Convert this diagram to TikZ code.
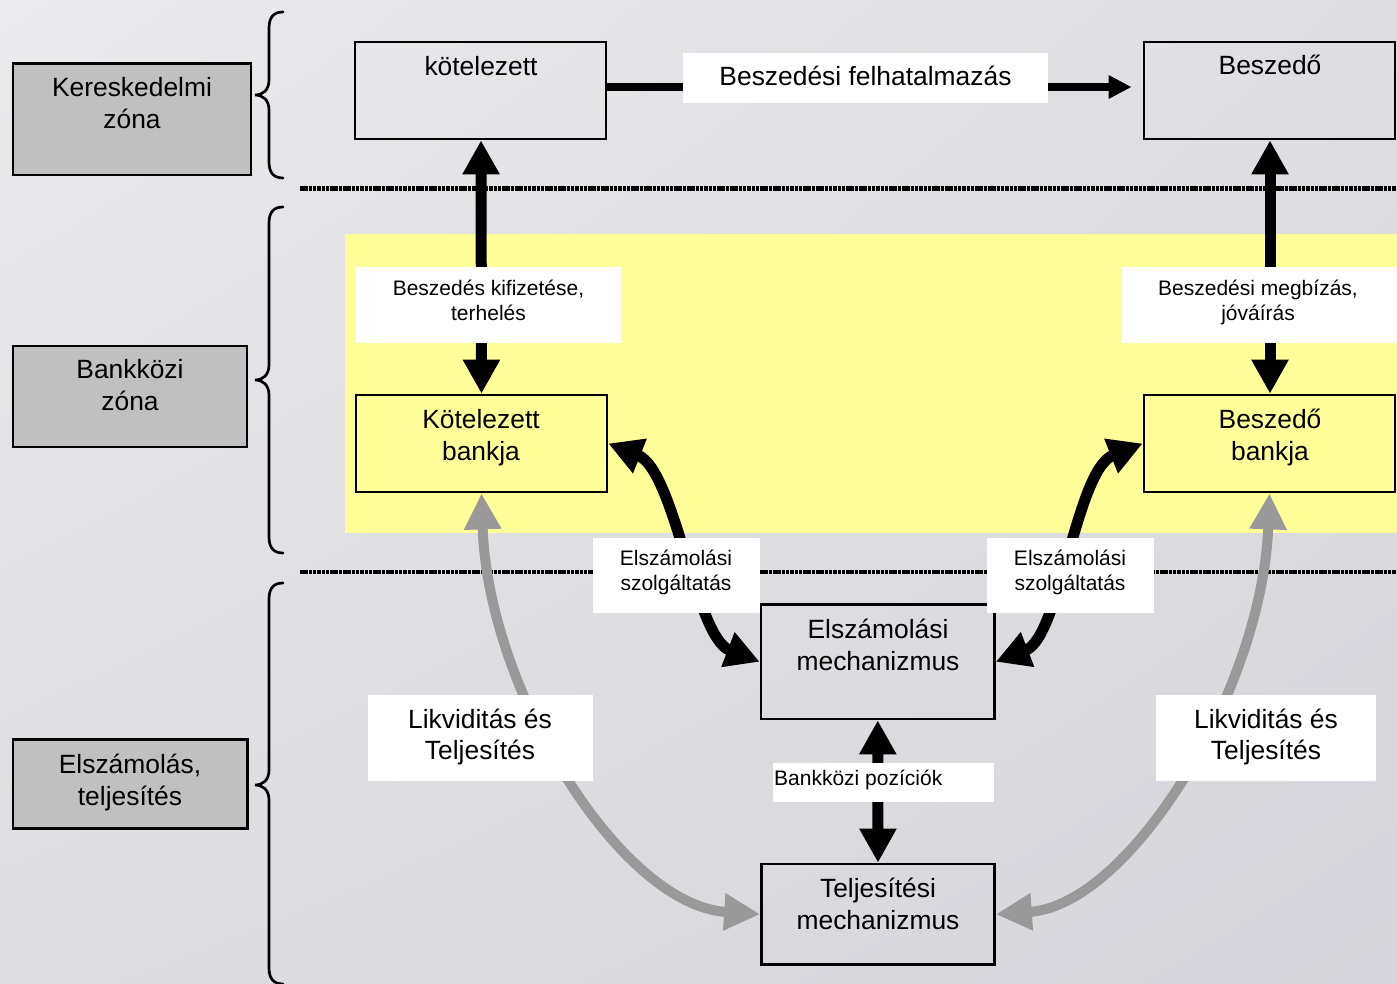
\documentclass[tikz,border=0pt]{standalone}
\usepackage{fontspec}
\setmainfont{Liberation Sans}
\usetikzlibrary{arrows.meta,shadings}
\definecolor{bgUL}{RGB}{234,234,237}
\definecolor{bgUR}{RGB}{222,222,226}
\definecolor{bgLL}{RGB}{221,221,225}
\definecolor{bgLR}{RGB}{214,213,219}
\definecolor{zonegray}{RGB}{192,192,192}
\definecolor{yel}{RGB}{255,255,153}
\definecolor{arrgray}{RGB}{153,153,153}
\newcommand\zonebrace[3]{%
  \draw[brc] (283,#1) .. controls (274,#1) and (269,{#1+5}) .. (269,{#1+16})
    -- (269,{#2-15}) .. controls (269,{#2-5}) and (263,#2) .. (255,#2)
    .. controls (263,#2) and (269,{#2+5}) .. (269,{#2+15})
    -- (269,{#3-16}) .. controls (269,{#3-5}) and (274,#3) .. (283,#3);}
\begin{document}
\begin{tikzpicture}[x=1pt,y=-1pt,
  box/.style={draw=black, line width=2.7pt, inner sep=0pt},
  zone/.style={box, fill=zonegray},
  big/.style={font=\fontsize{26.4}{32}\selectfont, align=center, anchor=base, inner sep=0pt},
  small/.style={font=\fontsize{21}{25}\selectfont, align=center, anchor=base, inner sep=0pt},
  lab/.style={fill=white, inner sep=0pt},
  brc/.style={line width=2.7pt, line cap=round},
  sep/.style={line width=4.5pt, dash pattern=on 3.5pt off 0.8pt},
  blk/.style={line width=11pt, {Triangle[length=34pt,width=35pt]}-{Triangle[length=34pt,width=35pt]}},
  gry/.style={draw=arrgray, line width=10pt, arrgray, {Triangle[length=36pt,width=35pt]}-{Triangle[length=36pt,width=35pt]}},
  harr/.style={line width=8pt, -{Triangle[length=23pt,width=22pt]}}
]
\useasboundingbox (0,0) rectangle (1397,984);
\shade[upper left=bgUL, upper right=bgUR, lower left=bgLL, lower right=bgLR] (0,0) rectangle (1397,984);
\fill[yel] (345,234) rectangle (1397,533);
\draw[sep] (300,188.5) -- (1397,188.5);
\draw[sep] (300,572) -- (1397,572);
\zonebrace{12}{95}{178}
\zonebrace{207}{380}{553}
\zonebrace{583}{785}{984}

% zone boxes
\node[zone, minimum width=238pt, minimum height=111.5pt] (zk) at (132,119.25) {};
\node[zone, minimum width=234pt, minimum height=101pt] (zb) at (130,396.5) {};
\node[zone, minimum width=234.5pt, minimum height=89pt] (ze) at (130.25,784) {};

% main boxes
\node[box, minimum width=251pt, minimum height=97pt] (kot) at (480.5,90.5) {};
\node[box, minimum width=251pt, minimum height=97pt] (besz) at (1269.5,90.5) {};
\node[box, fill=yel, minimum width=251pt, minimum height=97pt] (kb) at (481.5,443.5) {};
\node[box, fill=yel, minimum width=251pt, minimum height=97pt] (bb) at (1269.5,443.5) {};
\node[box, minimum width=233.5pt, minimum height=114.5pt] (em) at (877.75,661.75) {};
\node[box, minimum width=233pt, minimum height=100.5pt] (tm) at (878,914.25) {};

% connectors
\draw[harr] ([yshift=3.5pt]kot.east) -- ([yshift=3.5pt,xshift=-11pt]besz.west);
\draw[blk] ([xshift=0.5pt]kot.south) -- (kb.north);
\draw[blk] ([xshift=0.5pt]besz.south) -- ([xshift=0.5pt]bb.north);
\draw[blk] (em.south) -- (tm.north);
\draw[blk] (kb.east) .. controls (675,470) and (695,637) .. (em.west);
\draw[blk] (bb.west) .. controls (1076,470) and (1060,637) .. (em.east);
\draw[gry] (kb.south) .. controls (488,690) and (620,905) .. (tm.west);
\draw[gry] (bb.south) .. controls (1262,690) and (1130,905) .. (tm.east);

% white label boxes
\node[lab, minimum width=365pt, minimum height=50pt] (lf) at (865.5,78) {};
\node[lab, minimum width=265pt, minimum height=76pt] (l1) at (488.5,305) {};
\node[lab, minimum width=275pt, minimum height=76pt] (l2) at (1259.5,305) {};
\node[lab, minimum width=167pt, minimum height=75pt] (l3) at (676.5,575.5) {};
\node[lab, minimum width=167pt, minimum height=75pt] (l4) at (1070.5,575.5) {};
\node[lab, minimum width=224.5pt, minimum height=86pt] (l5) at (480.25,738) {};
\node[lab, minimum width=220pt, minimum height=86pt] (l6) at (1266,738) {};
\node[lab, minimum width=221pt, minimum height=39pt] (l7) at (883.5,782.5) {};

% texts (multi-line nodes: base = baseline of last line)
\node[big] (tzk) at (132,129) {Kereskedelmi\\zóna};
\node[big] (tzb) at (130,410.5) {Bankközi\\zóna};
\node[big] (tze) at (130,805) {Elszámolás,\\teljesítés};
\node[big] (tkot) at (481,75.5) {kötelezett};
\node[big] (tbesz) at (1270,75) {Beszedő};
\node[big] (tkb) at (481,460) {Kötelezett\\bankja};
\node[big] (tbb) at (1270,460) {Beszedő\\bankja};
\node[big] (tem) at (878,670.5) {Elszámolási\\mechanizmus};
\node[big] (ttm) at (878,929) {Teljesítési\\mechanizmus};
\node[big] (tlf) at (865.5,85.5) {Beszedési felhatalmazás};
\node[small] (tl1) at (488.5,320) {Beszedés kifizetése,\\terhelés};
\node[small] (tl2) at (1258,320) {Beszedési megbízás,\\jóváírás};
\node[small] (tl3) at (676,590) {Elszámolási\\szolgáltatás};
\node[small] (tl4) at (1070,590) {Elszámolási\\szolgáltatás};
\node[big, font=\fontsize{26.4}{31}\selectfont] (tl5) at (480,759) {Likviditás és\\Teljesítés};
\node[big, font=\fontsize{26.4}{31}\selectfont] (tl6) at (1266,759) {Likviditás és\\Teljesítés};
\node[small, anchor=base west] (tl7) at (774,785) {Bankközi pozíciók};
\end{tikzpicture}
\end{document}
